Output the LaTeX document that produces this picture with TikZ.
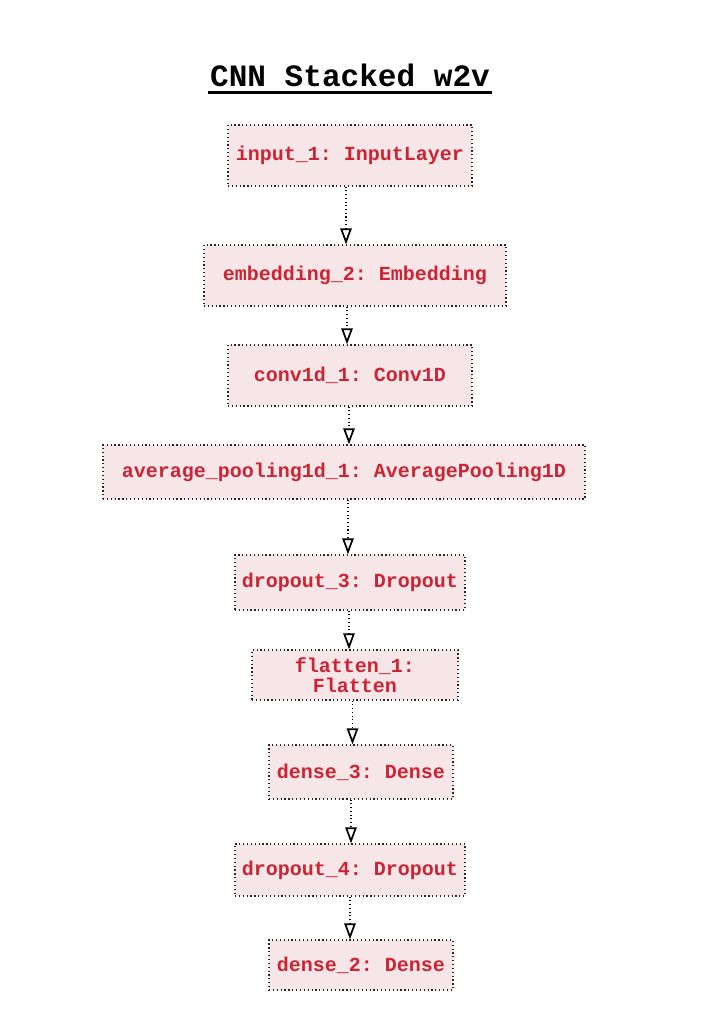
\documentclass[tikz,border=0pt]{standalone}
\usepackage{fontspec}
\setmonofont{Liberation Mono}
\usetikzlibrary{arrows.meta, positioning}
\definecolor{layertext}{HTML}{CC2434}
\definecolor{layerfill}{HTML}{F7E6E7}

\tikzset{
  layer/.style={draw=black!85, dotted, line width=0.9pt, fill=layerfill,
    text=layertext, font=\ttfamily\bfseries\fontsize{15}{15}\selectfont,
    align=center, inner sep=0pt},
  link/.style={draw=black, dotted, line width=0.8pt,
    -{Triangle[open, length=12pt, width=8.5pt, line width=1.3pt]}},
}

\begin{document}
\begin{tikzpicture}[x=0.75pt, y=-0.75pt]
\useasboundingbox (0,0) rectangle (700,1031);

% title
\node[font=\ttfamily\bfseries\fontsize{23.3}{25}\selectfont, anchor=base] (title) at (350,86) {CNN Stacked w2v};
\draw[line width=2.3pt] (208,92.5) -- (492,92.5);

% layers
\node[layer, minimum width=183pt, minimum height=45.75pt] (inp)    at (350,155.5) {input\_1: InputLayer};
\node[layer, minimum width=226.5pt, minimum height=45.75pt] (emb)  at (355,275.5) {embedding\_2: Embedding};
\node[layer, minimum width=183pt, minimum height=45.75pt] (conv)   at (350,375.5) {conv1d\_1: Conv1D};
\node[layer, minimum width=361.5pt, minimum height=40.5pt] (pool)  at (344,472) {average\_pooling1d\_1: AveragePooling1D};
\node[layer, minimum width=172.5pt, minimum height=41.25pt] (drop3) at (350,582.5) {dropout\_3: Dropout};
\node[layer, minimum width=154.5pt, minimum height=37.5pt] (flat)  at (355,675) {flatten\_1:\\Flatten};
\node[layer, minimum width=138pt, minimum height=40.5pt] (dense3)  at (361,772) {dense\_3: Dense};
\node[layer, minimum width=172.5pt, minimum height=39pt] (drop4)   at (350,870) {dropout\_4: Dropout};
\node[layer, minimum width=138pt, minimum height=37.5pt] (dense2)  at (361,965) {dense\_2: Dense};

% connectors
\foreach \a/\b/\x in {inp/emb/346, emb/conv/347, conv/pool/349, pool/drop3/348,
                      drop3/flat/349, flat/dense3/352.5, dense3/drop4/351, drop4/dense2/350}{
  \coordinate (lx) at (\x,0);
  \draw[link] (\a.south -| lx) -- (\b.north -| lx);
}
\end{tikzpicture}
\end{document}
